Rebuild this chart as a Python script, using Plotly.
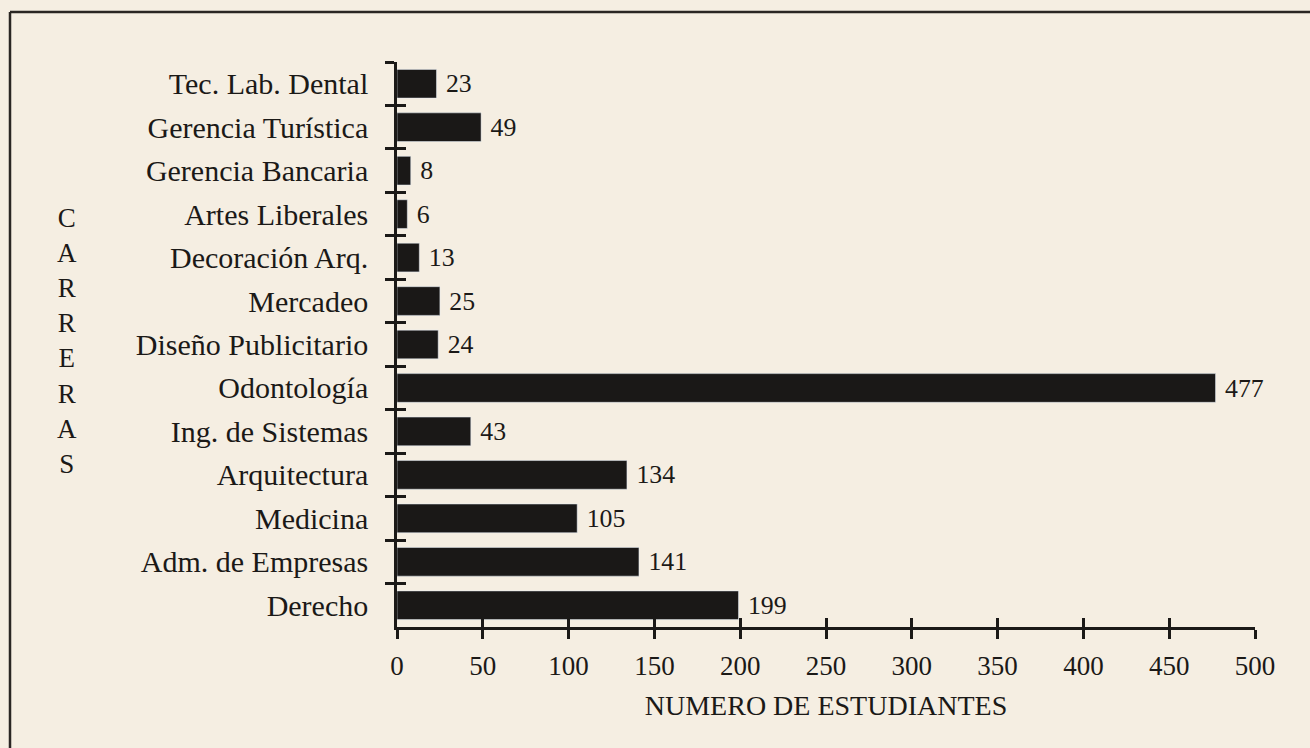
import plotly.graph_objects as go

carreras = ["Tec. Lab. Dental", "Gerencia Turística", "Gerencia Bancaria", "Artes Liberales",
            "Decoración Arq.", "Mercadeo", "Diseño Publicitario", "Odontología",
            "Ing. de Sistemas", "Arquitectura", "Medicina", "Adm. de Empresas", "Derecho"]
estudiantes = [23, 49, 8, 6, 13, 25, 24, 477, 43, 134, 105, 141, 199]
x_ticks = [0, 50, 100, 150, 200, 250, 300, 350, 400, 450, 500]

W, H = 1310, 748
L, R, T, B = 397, 55, 62, 121
PW, PH = W - L - R, H - T - B
FONT = "Liberation Serif, Times New Roman, serif"
INK = "#1b1917"
BG = "#f5eee2"

fig = go.Figure()
fig.add_trace(go.Bar(
    x=estudiantes, y=carreras, orientation="h",
    marker=dict(color="#1a1817", line=dict(width=0)),
    width=0.66,
    text=["\u00a0" + str(v) for v in estudiantes], textposition="outside",
    textfont=dict(family=FONT, size=27, color=INK),
    cliponaxis=False, hoverinfo="x+y",
))
# invisible twin trace to carry the overlaid axes (inner half of crossing ticks)
fig.add_trace(go.Bar(
    x=estudiantes, y=carreras, orientation="h", xaxis="x2", yaxis="y2",
    marker=dict(color="rgba(0,0,0,0)"), width=0.66, hoverinfo="skip", showlegend=False,
))

common_y = dict(type="category", categoryorder="array", categoryarray=carreras,
                range=[len(carreras) - 0.5, -0.5], tickson="boundaries")
fig.update_layout(
    width=W, height=H,
    margin=dict(l=L, r=R, t=T, b=B),
    paper_bgcolor=BG, plot_bgcolor=BG,
    showlegend=False, bargap=0.34,
    font=dict(family=FONT, color=INK),
    xaxis=dict(range=[0, 500], tickvals=x_ticks, ticktext=[str(v) for v in x_ticks],
               showgrid=False, zeroline=False, showline=True, linecolor=INK, linewidth=2.5,
               ticks="outside", ticklen=9, tickwidth=2.5, tickcolor=INK,
               ticklabelstandoff=4,
               tickfont=dict(family=FONT, size=27, color=INK),
               title=dict(text="NUMERO DE ESTUDIANTES", standoff=16,
                          font=dict(family=FONT, size=28, color=INK))),
    xaxis2=dict(range=[0, 500], tickvals=x_ticks, overlaying="x", anchor="y2", side="bottom",
                showgrid=False, zeroline=False, showline=False, showticklabels=False,
                ticks="inside", ticklen=9, tickwidth=2.5, tickcolor=INK),
    yaxis=dict(**common_y, showgrid=False, zeroline=False, showline=True, linecolor=INK,
               linewidth=2.5, ticks="outside", ticklen=9, tickwidth=2.5, tickcolor=INK,
               ticklabelstandoff=20,
               tickfont=dict(family=FONT, size=30, color=INK)),
    yaxis2=dict(**common_y, overlaying="y", anchor="x2", side="left",
                showgrid=False, zeroline=False, showline=False, showticklabels=False,
                ticks="inside", ticklen=9, tickwidth=2.5, tickcolor=INK),
)

def px_x(p):
    return (p - L) / PW

def px_y(p):
    return 1 - (p - T) / PH

# vertical "CARRERAS" label
fig.add_annotation(text="<br>".join("CARRERAS"), xref="paper", yref="paper",
                   x=px_x(67), y=px_y(341), xanchor="center", yanchor="middle",
                   showarrow=False, align="center",
                   font=dict(family=FONT, size=27, color=INK))

# page frame lines (top and left border of the printed figure)
fig.add_shape(type="line", xref="paper", yref="paper", x0=px_x(10), x1=px_x(1310),
              y0=px_y(12), y1=px_y(12), line=dict(color="#2a2623", width=2.5))
fig.add_shape(type="line", xref="paper", yref="paper", x0=px_x(10), x1=px_x(10),
              y0=px_y(12), y1=px_y(748), line=dict(color="#2a2623", width=2.5))

fig.write_html("out.html",
               config={"displayModeBar": False},
               post_script="document.body.style.margin='0';"
                           "document.body.style.background='%s';" % BG)
